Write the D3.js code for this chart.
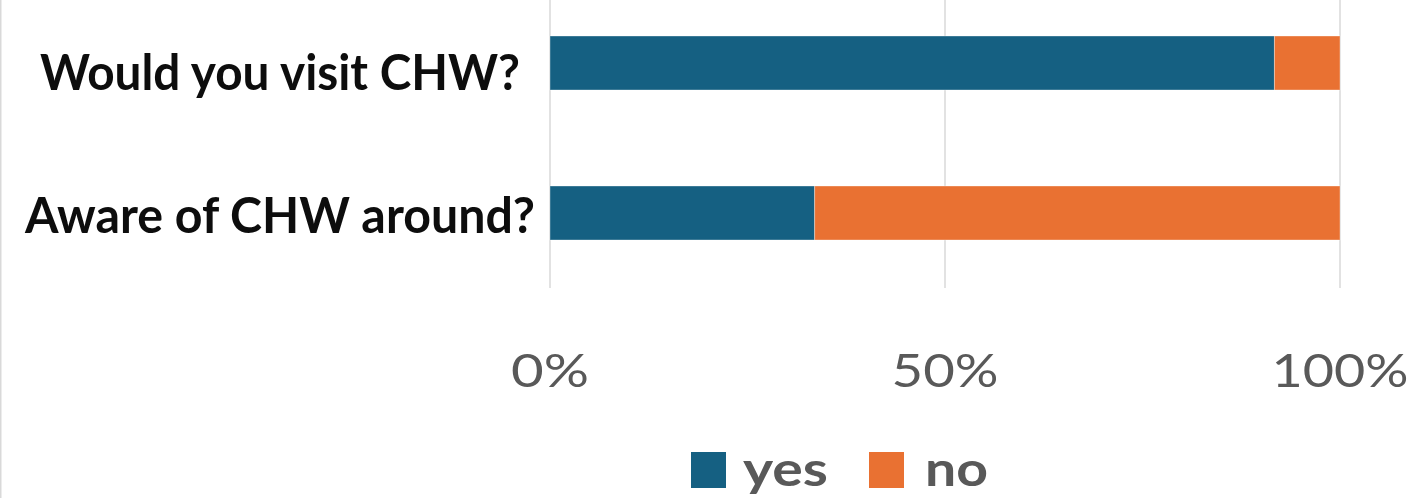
<!DOCTYPE html>
<html>
<head>
<meta charset="utf-8">
<script src="https://cdn.jsdelivr.net/npm/d3@7"></script>
<style>
  html, body { margin: 0; padding: 0; background: #ffffff; }
  svg { display: block; }
</style>
</head>
<body>
<svg id="chart" width="1416" height="498"></svg>
<script>
// ---- data ----
const categories = ["Would you visit CHW?", "Aware of CHW around?"];
const seriesNames = ["yes", "no"];
const yesValues = [0.917, 0.335];
const noValues = [0.083, 0.665];
const tickValues = [0, 0.5, 1];
const tickLabels = ["0%", "50%", "100%"];
const seriesColors = ["#156082", "#E97132"];

// ---- layout ----
const W = 1416, H = 498;
const svg = d3.select("#chart");
const font = "Lato, 'Open Sans', sans-serif";

const x = d3.scaleLinear().domain([0, 1]).range([550, 1340]);
const y = d3.scaleBand().domain(categories).range([-12, 288]).paddingInner(0.64).paddingOuter(0.32);
const color = d3.scaleOrdinal().domain(seriesNames).range(seriesColors);

// left border
svg.append("line").attr("x1", 0.75).attr("x2", 0.75).attr("y1", 0).attr("y2", H)
  .attr("stroke", "#d9d9d9").attr("stroke-width", 1.5);

// gridlines
svg.append("g").selectAll("line").data(tickValues).join("line")
  .attr("x1", d => x(d)).attr("x2", d => x(d))
  .attr("y1", 0).attr("y2", 288)
  .attr("stroke", "#d9d9d9").attr("stroke-width", 1.5);

// stacked data
const rows = categories.map((c, i) => ({ cat: c, yes: yesValues[i], no: noValues[i] }));
const stack = d3.stack().keys(seriesNames)(rows);

svg.append("g").selectAll("g").data(stack).join("g")
  .attr("fill", d => color(d.key))
  .selectAll("rect").data(d => d).join("rect")
  .attr("x", d => x(d[0]))
  .attr("width", d => x(d[1]) - x(d[0]))
  .attr("y", d => y(d.data.cat))
  .attr("height", y.bandwidth())
  .attr("stroke", "#ffffff").attr("stroke-opacity", 0.35).attr("stroke-width", 1);

// category labels
const labelWidths = [480, 510];
const labelBaseOffset = [27, 20];
svg.append("g").selectAll("text").data(categories).join("text")
  .attr("x", 280)
  .attr("y", (d, i) => y(d) + y.bandwidth() / 2 + labelBaseOffset[i])
  .attr("text-anchor", "middle")
  .attr("font-family", font).attr("font-weight", "bold").attr("font-size", 49)
  .attr("fill", "#0d0d0d")
  .attr("textLength", (d, i) => labelWidths[i]).attr("lengthAdjust", "spacingAndGlyphs")
  .text(d => d);

// x axis tick labels
const tickWidths = [78, 107, 137];
svg.append("g").selectAll("text").data(tickValues).join("text")
  .attr("x", d => x(d))
  .attr("y", 387)
  .attr("text-anchor", "middle")
  .attr("font-family", font).attr("font-size", 46)
  .attr("fill", "#595959")
  .attr("textLength", (d, i) => tickWidths[i]).attr("lengthAdjust", "spacingAndGlyphs")
  .text((d, i) => tickLabels[i]);

// legend
const legendItems = [
  { key: "yes", sx: 691, tx: 743, tw: 85 },
  { key: "no", sx: 869, tx: 925, tw: 63 }
];
const lg = svg.append("g");
lg.selectAll("rect").data(legendItems).join("rect")
  .attr("x", d => d.sx).attr("y", 452).attr("width", 35).attr("height", 36)
  .attr("fill", d => color(d.key));
lg.selectAll("text").data(legendItems).join("text")
  .attr("x", d => d.tx).attr("y", 486)
  .attr("font-family", font).attr("font-weight", "bold").attr("font-size", 48)
  .attr("fill", "#595959")
  .attr("textLength", d => d.tw).attr("lengthAdjust", "spacingAndGlyphs")
  .text(d => d.key);
</script>
</body>
</html>
